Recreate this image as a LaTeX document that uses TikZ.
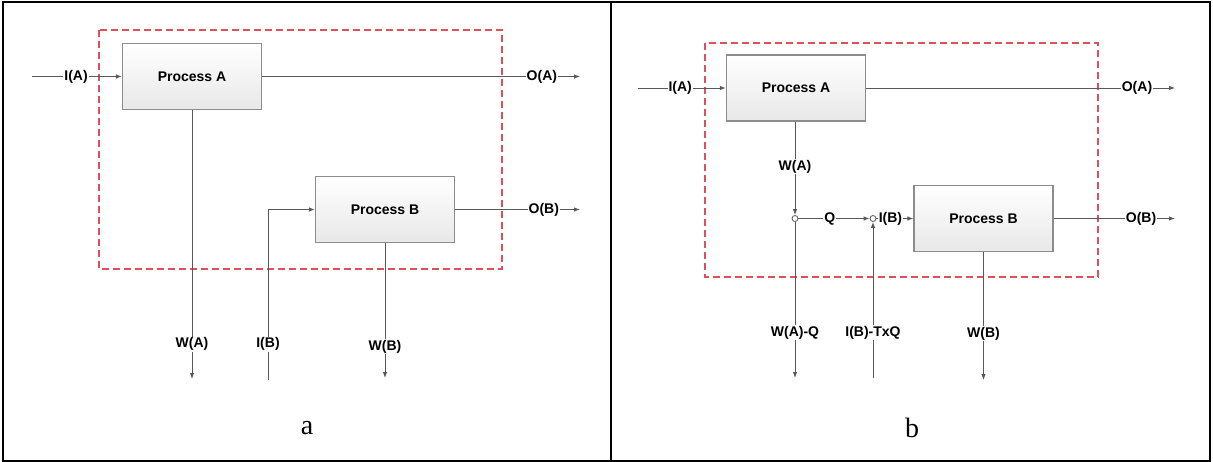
\documentclass[tikz,border=0pt]{standalone}
\usepackage{fontspec}
\setmainfont{Liberation Serif}
\setsansfont{Liberation Sans}
\usetikzlibrary{arrows.meta,positioning,calc}
\definecolor{linegray}{HTML}{595959}
\definecolor{boxgray}{HTML}{8C8C8C}
\definecolor{dashred}{HTML}{E0505A}

\begin{document}
\begin{tikzpicture}[x=1pt,y=-1pt,
  every node/.style={font=\sffamily\bfseries\fontsize{14}{16}\selectfont,align=center},
  procbox/.style={draw=boxgray,line width=1.2pt,top color=white,bottom color=gray!18,minimum width=139pt,minimum height=66pt},
  flow/.style={draw=linegray,line width=0.9pt,-{Latex[length=6pt,width=4.5pt]}},
  tag/.style={fill=white,inner sep=1pt},
  sysbox/.style={draw=dashred,line width=1.6pt,dash pattern=on 7pt off 4pt},
  junc/.style={circle,draw=linegray,fill=white,inner sep=0pt,minimum size=6pt,line width=0.8pt},
  panel/.style={font=\rmfamily\fontsize{28}{30}\selectfont}]
\useasboundingbox (0,0) rectangle (1213,462);
\draw[line width=1.5pt] (3,2) rectangle (1210,461);
\draw[line width=1.5pt] (611,2) -- (611,461);

% panel a
\draw[sysbox] (99,30) rectangle (502,269);
\node[procbox] (pa) at (192,76.5) {Process A};
\node[procbox] (pb) at (385,209.5) {Process B};
\coordinate (ina) at (32,76.5);
\coordinate (outa) at (580,76.5);
\coordinate (outb) at (580,209.5);
\coordinate (wa) at (192,379);
\coordinate (ib) at (268,380);
\coordinate (wb) at (385,378);
\draw[flow] (ina) -- (pa.west) node[tag,pos=0.49] (lia) {I(A)};
\draw[flow] (pa.east) -- (outa) node[tag,pos=0.88] (loa) {O(A)};
\draw[flow] (pb.east) -- (outb) node[tag,pos=0.71] (lob) {O(B)};
\draw[flow] (pa.south) -- (wa) node[tag,pos=0.87] (lwa) {W(A)};
\draw[flow] (ib) |- (pb.west) node[tag,pos=0.105] (lib) {I(B)};
\draw[flow] (pb.south) -- (wb) node[tag,pos=0.77] (lwb) {W(B)};
\node[panel] (capa) at (307,428) {a};

% panel b
\draw[sysbox] (705,43) rectangle (1098,277);
\node[procbox] (pa2) at (796,88) {Process A};
\node[procbox] (pb2) at (983.5,218.5) {Process B};
\node[junc] (j1) at (795,218.5) {};
\node[junc] (j2) at (873,218.5) {};
\coordinate (ina2) at (638,88);
\coordinate (outa2) at (1175,88);
\coordinate (outb2) at (1175,218.5);
\coordinate (wq) at (795,378);
\coordinate (ibt) at (873,378);
\coordinate (wb2) at (983.5,380);
\draw[flow] (ina2) -- (pa2.west) node[tag,pos=0.48] (lia2) {I(A)};
\draw[flow] (pa2.east) -- (outa2) node[tag,pos=0.877] (loa2) {O(A)};
\draw[flow] (j1 |- pa2.south) -- (j1) node[tag,pos=0.48] (lwa2) {W(A)};
\draw[flow] (j1) -- (j2) node[tag,pos=0.44] (lq) {Q};
\draw[flow] (j2) -- (pb2.west) node[tag,pos=0.38] (lib2) {I(B)};
\draw[flow] (ibt) -- (j2) node[tag,pos=0.29] (libt) {I(B)-TxQ};
\draw[flow] (j1) -- (wq) node[tag,pos=0.71] (lwq) {W(A)-Q};
\draw[flow] (pb2.south) -- (wb2) node[tag,pos=0.64] (lwb2) {W(B)};
\draw[flow] (pb2.east) -- (outb2) node[tag,pos=0.72] (lob2) {O(B)};
\node[panel] (capb) at (912,428) {b};
\end{tikzpicture}
\end{document}
